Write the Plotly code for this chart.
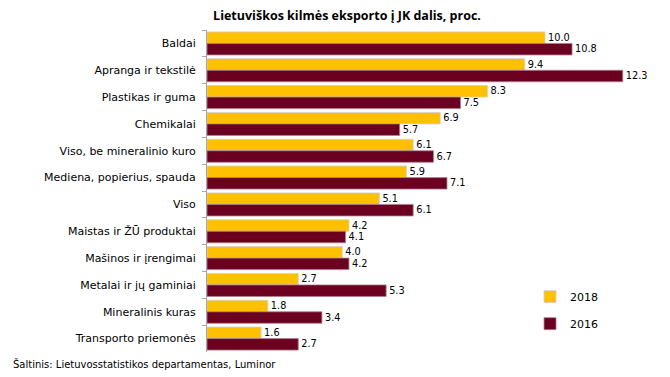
import plotly.graph_objects as go

categories = ["Baldai", "Apranga ir tekstilė", "Plastikas ir guma", "Chemikalai",
              "Viso, be mineralinio kuro", "Mediena, popierius, spauda", "Viso",
              "Maistas ir ŽŪ produktai", "Mašinos ir įrengimai", "Metalai ir jų gaminiai",
              "Mineralinis kuras", "Transporto priemonės"]
values_2018 = [10.0, 9.4, 8.3, 6.9, 6.1, 5.9, 5.1, 4.2, 4.0, 2.7, 1.8, 1.6]
values_2016 = [10.8, 12.3, 7.5, 5.7, 6.7, 7.1, 6.1, 4.1, 4.2, 5.3, 3.4, 2.7]

FONT = "DejaVu Sans"
TITLE_FONT = "Open Sans"
fig = go.Figure()
fig.add_trace(go.Bar(y=categories, x=values_2018, name="2018", orientation="h",
                     marker=dict(color="#FFC000", line=dict(color="#d0d0d0", width=0.8)),
                     texttemplate="%{x:.1f}", textposition="outside", cliponaxis=False,
                     textfont=dict(size=11, color="#000000"), legendgroup="a"))
fig.add_trace(go.Bar(y=categories, x=values_2016, name="2016", orientation="h",
                     marker=dict(color="#6C0020", line=dict(color="#b08090", width=0.8)),
                     texttemplate="%{x:.1f}", textposition="outside", cliponaxis=False,
                     textfont=dict(size=11, color="#000000"), legendgroup="b"))

fig.update_layout(
    template="none",
    width=670, height=377,
    margin=dict(l=207, r=30, t=30, b=25, pad=0),
    paper_bgcolor="white", plot_bgcolor="white",
    barmode="group", bargap=0.14, bargroupgap=0,
    font=dict(family=FONT, size=11, color="#000000"),
    title=dict(text="<b>Lietuviškos kilmės eksporto į JK dalis, proc.</b>",
               x=347 / 670, xref="container", xanchor="center", y=0.958, yanchor="middle",
               font=dict(size=12.5, family=TITLE_FONT)),
    xaxis=dict(range=[0, 12.81], visible=False, automargin=False, showgrid=False,
               zeroline=False),
    yaxis=dict(categoryorder="array", categoryarray=categories, autorange="reversed",
               showline=True, linecolor="#a6a6a6", linewidth=1, automargin=False,
               ticks="outside", tickson="boundaries", ticklen=4, tickcolor="#a6a6a6",
               ticklabelstandoff=8,
               tickfont=dict(size=11, family=FONT), showgrid=False, zeroline=False),
    legend=dict(x=0.746, y=0.217, xanchor="left", yanchor="top",
                bgcolor="rgba(0,0,0,0)",
                font=dict(size=11, family=FONT), tracegroupgap=8,
                itemwidth=30, traceorder="grouped"),
    showlegend=True,
)
fig.add_annotation(text="Šaltinis: Lietuvosstatistikos departamentas, Luminor",
                   xref="paper", yref="paper", x=(11 - 207) / 433, y=-0.037,
                   xanchor="left", yanchor="middle", showarrow=False,
                   font=dict(size=10, family=FONT))

fig.write_html("out.html", config={"displayModeBar": False},
               post_script="document.body.style.margin='0';")
